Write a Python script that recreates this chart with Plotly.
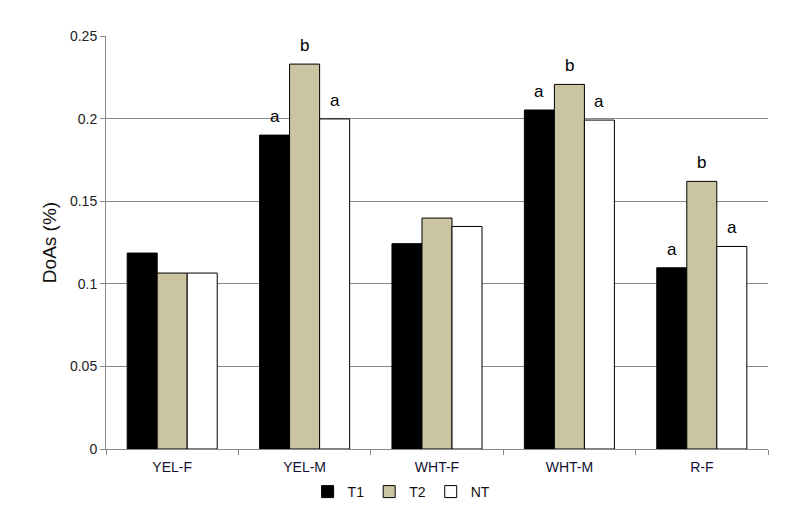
import plotly.graph_objects as go

categories = ["YEL-F", "YEL-M", "WHT-F", "WHT-M", "R-F"]
t1_values = [0.1186, 0.190, 0.1243, 0.2052, 0.1097]
t2_values = [0.1065, 0.233, 0.1398, 0.2207, 0.162]
nt_values = [0.1065, 0.1998, 0.1347, 0.1991, 0.1226]
t1_letters = ["", "a", "", "a", "a"]
t2_letters = ["", "b", "", "b", "b"]
nt_letters = ["", "a", "", "a", "a"]
y_ticks = [0, 0.05, 0.1, 0.15, 0.2, 0.25]
y_ticklabels = ["0", "0.05", "0.1", "0.15", "0.2", "0.25"]

series = [
    ("T1", t1_values, t1_letters, "#000000"),
    ("T2", t2_values, t2_letters, "#CBC4A3"),
    ("NT", nt_values, nt_letters, "#FFFFFF"),
]

bargap = 0.32
bar_w = (1 - bargap) / len(series)

fig = go.Figure()
for name, vals, _, color in series:
    fig.add_trace(go.Bar(
        x=categories, y=vals, name=name,
        marker=dict(color=color, line=dict(color="#000000", width=1)),
    ))

# significance letters above the bars
for j, (name, vals, letters, _) in enumerate(series):
    for i, (v, letter) in enumerate(zip(vals, letters)):
        if not letter:
            continue
        fig.add_annotation(
            x=i + (j - 1) * bar_w, y=v, text=letter, showarrow=False,
            yanchor="bottom", yshift=7,
            font=dict(family="Liberation Sans, Arial", size=17, color="#000000"),
        )

# the page body adds an 8px offset, so margins are trimmed by that much
fig.update_layout(
    width=792, height=516,
    margin=dict(l=98, r=32, t=28, b=75, autoexpand=False),
    barmode="group", bargap=bargap, bargroupgap=0,
    plot_bgcolor="white", paper_bgcolor="white",
    font=dict(family="Liberation Sans, Arial", size=14, color="#111111"),
    legend=dict(
        orientation="h", xref="container", yref="container",
        x=0.497, xanchor="center", y=0.062, yanchor="middle",
        font=dict(size=14), itemwidth=30, tracegroupgap=0,
    ),
    showlegend=True,
)
fig.update_xaxes(
    type="category", showline=True, linecolor="#888888", linewidth=1,
    ticks="outside", tickson="boundaries", ticklen=5, tickcolor="#888888",
    tickfont=dict(size=14, color="#111133"), showgrid=False,
    ticklabelstandoff=5,
)
fig.update_yaxes(
    range=[0, 0.25], tickvals=y_ticks, ticktext=y_ticklabels,
    showline=True, linecolor="#888888", linewidth=1,
    ticks="outside", ticklen=5, tickcolor="#888888",
    showgrid=True, gridcolor="#888888", gridwidth=1,
    tickfont=dict(size=14, color="#222222"),
    title=dict(text="DoAs (%)", font=dict(size=19), standoff=8),
)

fig.write_html("out.html")
